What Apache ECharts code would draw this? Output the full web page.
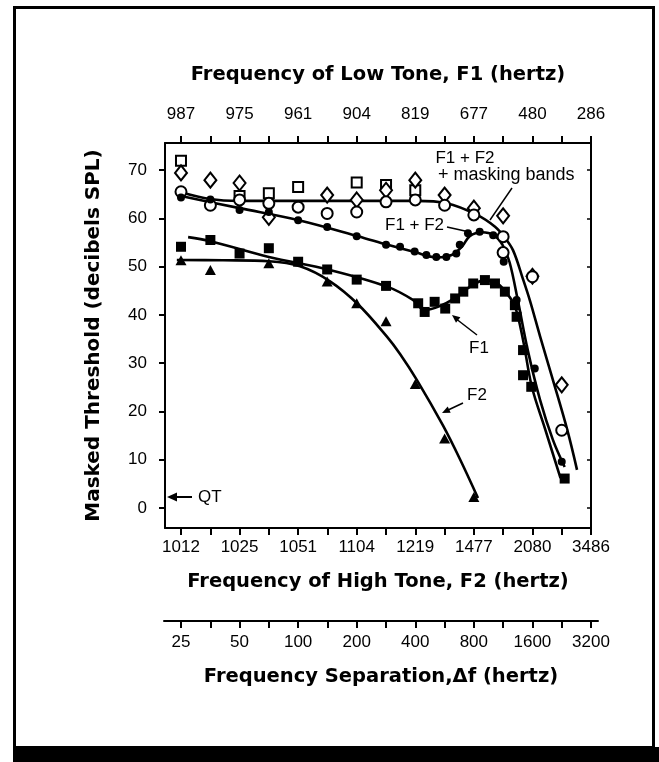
<!DOCTYPE html>
<html><head><meta charset="utf-8">
<script src="https://cdn.jsdelivr.net/npm/echarts@6/dist/echarts.min.js"></script>
<style>html,body{margin:0;padding:0;background:#fff}#c{width:659px;height:762px}</style>
</head><body><div id="c"></div>
<script>
// ---- tick labels ----
const deltaFTicks = [25, 50, 100, 200, 400, 800, 1600, 3200];
const f1TickLabels = ['987', '975', '961', '904', '819', '677', '480', '286'];
const f2TickLabels = ['1012', '1025', '1051', '1104', '1219', '1477', '2080', '3486'];
const yTicks = [0, 10, 20, 30, 40, 50, 60, 70];

// ---- data points: [frequency separation Δf (Hz), masked threshold (dB SPL)] ----
const f1f2Points = [[25,64.3],[35.4,63.9],[50,61.7],[70.7,61.3],[100,59.6],[141,58.2],[200,56.3],[283,54.5],[334,54.1],[397,53.1],[456,52.4],[513,52.0],[578,52.0],[650,52.7],[677,54.5],[746,56.9],[857,57.2],[1006,56.5],[1139,51.0],[1327,43.1],[1432,32.7],[1645,28.9],[2263,9.6]];
const f1Points = [[25,54.1],[35.4,55.5],[50,52.7],[70.7,53.8],[100,51.0],[141,49.4],[200,47.3],[283,46.0],[414,42.4],[447,40.6],[503,42.7],[570,41.3],[641,43.4],[706,44.8],[794,46.5],[912,47.2],[1027,46.5],[1155,44.8],[1300,42.0],[1327,39.6],[1432,32.7],[1432,27.5],[1578,25.1],[2343,6.1]];
const f2Points = [[25,51.3],[35.4,49.3],[70.7,50.7],[141,46.9],[200,42.4],[283,38.7],[400,25.7],[566,14.4],[800,2.3]];
const maskCirclePoints = [[25,65.5],[35.4,62.7],[50,63.8],[70.7,63.1],[100,62.3],[141,61.0],[200,61.3],[283,63.4],[400,63.8],[566,62.7],[800,60.7],[1131,56.2],[1131,52.9],[1600,47.9],[2263,16.1]];
const maskDiamondPoints = [[25,69.4],[35.4,67.9],[50,67.3],[70.7,60.2],[141,64.8],[200,63.8],[283,65.8],[400,67.9],[566,64.8],[800,62.1],[1131,60.5],[1600,48.0],[2263,25.5]];
const maskSquarePoints = [[25,71.9],[50,64.6],[70.7,65.2],[100,66.5],[200,67.4],[283,66.9],[400,65.8]];

// ---- fitted curves ----
const maskCurve = [[25,65.4],[35.1,64.0],[50,63.6],[100,63.6],[200,63.6],[400,63.6],[581,63.1],[830,60.7],[1028,58.25],[1143,56.2],[1271,53.4],[1431,47.4],[1555,42.9],[1750,35.6],[2040,26.5],[2409,16.4],[2712,7.9]];
const f1f2Curve = [[25,64.6],[50,62.1],[100.7,59.6],[202.8,56.3],[288.8,54.5],[397,53.0],[517,51.9],[615,52.4],[697,54.2],[762,56.3],[881,57.1],[1012,56.5],[1123,54.5],[1221,50.9],[1345,43.1],[1514,32.7],[1751,22.4],[2039,14.1],[2343,8.5]];
const f1Curve = [[27.2,56.1],[35.1,55.3],[70.7,52.0],[145.4,49.3],[288.8,45.8],[389,43.1],[447,41.0],[535,41.8],[641,43.5],[762,45.8],[912,47.2],[1048,46.6],[1179,44.5],[1300,41.8],[1432,34.8],[1589,25.1],[1851,16.6],[2231,6.2]];
const f2Curve = [[23.8,51.36],[41.1,51.3],[70.8,51.1],[102.3,50.05],[145.8,46.95],[203,42.2],[286,35.5],[334,31.9],[408,26.5],[555,17.1],[679,10.1],[840,2.07]];

// octaves above 25 Hz (log2 scale used by the figure)
const oct = df => Math.log2(df / deltaFTicks[0]);
const conv = arr => arr.map(p => [oct(p[0]), p[1]]);

const majorPos = deltaFTicks.map(oct);
const tickPos = [];
majorPos.forEach((v, i) => { tickPos.push(v); if (i < majorPos.length - 1) tickPos.push((v + majorPos[i + 1]) / 2); });

const LBL = { fontFamily: 'Liberation Sans', fontSize: 17, color: '#000' };
const NAME = { fontFamily: 'DejaVu Sans', fontWeight: 'bold', fontSize: 19.5, color: '#000' };
const AXL = { show: true, onZero: false, lineStyle: { color: '#000', width: 2 } };

function xAx(opt) {
  return Object.assign({
    type: 'value', min: -0.273, max: 7, splitLine: { show: false },
    axisLine: AXL,
    axisTick: { show: true, customValues: tickPos, length: 7, lineStyle: { color: '#000', width: 2 } },
    nameLocation: 'middle', nameTextStyle: NAME
  }, opt);
}

const lineS = (name, data) => ({
  name, type: 'line', data: conv(data), smooth: 0.35, showSymbol: false, symbol: 'none',
  lineStyle: { color: '#000', width: 2.6 }, z: 2, silent: true
});
const scat = (name, data, symbol, size, filled) => ({
  name, type: 'scatter', data: conv(data), symbol, symbolSize: size, z: 4, silent: true,
  itemStyle: filled ? { color: '#000', opacity: 1 } : { color: '#fff', borderColor: '#000', borderWidth: 2, opacity: 1 }
});

const chart = echarts.init(document.getElementById('c'), null, { renderer: 'canvas' });

const option = {
  backgroundColor: '#fff',
  animation: false,
  grid: [
    { left: 165, right: 68, top: 143, bottom: 234 },
    { left: 164, right: 61, top: 600, height: 21 }
  ],
  xAxis: [
    xAx({ gridIndex: 0, position: 'bottom',
      axisLabel: Object.assign({ customValues: majorPos, margin: 11, formatter: v => f2TickLabels[Math.round(v)] }, LBL),
      name: 'Frequency of High Tone, F2 (hertz)', nameGap: 44 }),
    xAx({ gridIndex: 0, position: 'top',
      axisLabel: Object.assign({ customValues: majorPos, margin: 20, formatter: v => f1TickLabels[Math.round(v)] }, LBL),
      name: 'Frequency of Low Tone, F1 (hertz)', nameGap: 58 }),
    xAx({ gridIndex: 1, position: 'bottom', min: -0.290, max: 7.12,
      axisLabel: Object.assign({ customValues: majorPos, margin: 13, formatter: v => String(deltaFTicks[Math.round(v)]) }, LBL),
      name: 'Frequency Separation,\u0394f (hertz)', nameGap: 46 })
  ],
  yAxis: [
    { gridIndex: 0, type: 'value', position: 'left', min: -4.14, max: 75.59, splitLine: { show: false },
      axisLine: AXL,
      axisTick: { show: true, customValues: yTicks, length: 6, lineStyle: { color: '#000', width: 2 } },
      axisLabel: Object.assign({ customValues: yTicks, margin: 18 }, LBL),
      name: 'Masked Threshold (decibels SPL)', nameLocation: 'middle', nameGap: 61,
      nameTextStyle: Object.assign({}, NAME, { fontSize: 20 }) },
    { gridIndex: 0, type: 'value', position: 'right', min: -4.14, max: 75.59, splitLine: { show: false },
      axisLine: AXL,
      axisTick: { show: true, inside: true, customValues: yTicks, length: 4, lineStyle: { color: '#000', width: 1.5 } },
      axisLabel: { show: false } },
    { gridIndex: 1, type: 'value', show: false }
  ],
  series: [
    lineS('F1 + F2 + masking bands (fit)', maskCurve),
    lineS('F1 + F2 (fit)', f1f2Curve),
    lineS('F1 (fit)', f1Curve),
    lineS('F2 (fit)', f2Curve),
    scat('F1 + F2 + masking bands (squares)', maskSquarePoints, 'rect', 10, false),
    scat('F1 + F2 + masking bands (diamonds)', maskDiamondPoints, 'diamond', [12, 15], false),
    scat('F1 + F2 + masking bands', maskCirclePoints, 'circle', 11, false),
    scat('F2', f2Points, 'triangle', [11, 10], true),
    scat('F1', f1Points, 'rect', 10, true),
    scat('F1 + F2', f1f2Points, 'circle', 8, true)
  ],
  graphic: [
    { type: 'rect', shape: { x: 14.5, y: 7.5, width: 639, height: 740 }, style: { fill: 'none', stroke: '#000', lineWidth: 3 }, silent: true },
    { type: 'rect', shape: { x: 13, y: 747, width: 646, height: 15 }, style: { fill: '#000' }, silent: true },
    // annotations
    { type: 'text', x: 465, y: 158, style: { text: 'F1 + F2', fontFamily: 'Liberation Sans', fontSize: 17, fill: '#000', textAlign: 'center', textVerticalAlign: 'middle' } },
    { type: 'text', x: 438, y: 175, style: { text: '+ masking bands', fontFamily: 'Liberation Sans', fontSize: 18, fill: '#000', textAlign: 'left', textVerticalAlign: 'middle' } },
    { type: 'line', shape: { x1: 512, y1: 188, x2: 490, y2: 220 }, style: { stroke: '#000', lineWidth: 1.5 } },
    { type: 'text', x: 385, y: 225, style: { text: 'F1 + F2', fontFamily: 'Liberation Sans', fontSize: 17, fill: '#000', textAlign: 'left', textVerticalAlign: 'middle' } },
    { type: 'line', shape: { x1: 447, y1: 227, x2: 465, y2: 231 }, style: { stroke: '#000', lineWidth: 1.5 } },
    { type: 'text', x: 479, y: 348, style: { text: 'F1', fontFamily: 'Liberation Sans', fontSize: 17, fill: '#000', textAlign: 'center', textVerticalAlign: 'middle' } },
    { type: 'line', shape: { x1: 477, y1: 335, x2: 455, y2: 318 }, style: { stroke: '#000', lineWidth: 1.5 } },
    { type: 'polygon', shape: { points: [[452, 315], [460.4, 317.3], [456, 322.7]] }, style: { fill: '#000' } },
    { type: 'text', x: 477, y: 395, style: { text: 'F2', fontFamily: 'Liberation Sans', fontSize: 17, fill: '#000', textAlign: 'center', textVerticalAlign: 'middle' } },
    { type: 'line', shape: { x1: 463, y1: 403, x2: 446, y2: 411 }, style: { stroke: '#000', lineWidth: 1.5 } },
    { type: 'polygon', shape: { points: [[442, 413], [450.7, 412.8], [447.7, 406.4]] }, style: { fill: '#000' } },
    { type: 'text', x: 198, y: 497, style: { text: 'QT', fontFamily: 'Liberation Sans', fontSize: 17, fill: '#000', textAlign: 'left', textVerticalAlign: 'middle' } },
    { type: 'line', shape: { x1: 192, y1: 497, x2: 174, y2: 497 }, style: { stroke: '#000', lineWidth: 2 } },
    { type: 'polygon', shape: { points: [[167, 497], [177, 492.5], [177, 501.5]] }, style: { fill: '#000' } }
  ]
};
chart.setOption(option);
</script>
</body></html>
